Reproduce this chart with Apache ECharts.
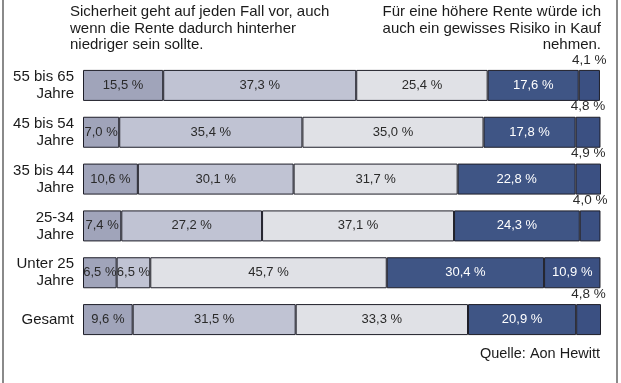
<!DOCTYPE html>
<html>
<head>
<meta charset="utf-8">
<script src="https://cdn.jsdelivr.net/npm/echarts@6/dist/echarts.min.js"></script>
<style>html,body{margin:0;padding:0;background:#fff}#c{width:621px;height:383px}</style>
</head>
<body>
<div id="c"></div>
<script>
const categories = ['55 bis 65\nJahre', '45 bis 54\nJahre', '35 bis 44\nJahre', '25-34\nJahre', 'Unter 25\nJahre', 'Gesamt'];
const seg1 = [15.5, 7.0, 10.6, 7.4, 6.5, 9.6];
const seg2 = [37.3, 35.4, 30.1, 27.2, 6.5, 31.5];
const seg3 = [25.4, 35.0, 31.7, 37.1, 45.7, 33.3];
const seg4 = [17.6, 17.8, 22.8, 24.3, 30.4, 20.9];
const seg5 = [4.1, 4.8, 4.9, 4.0, 10.9, 4.8];
const titleLeft = 'Sicherheit geht auf jeden Fall vor, auch\nwenn die Rente dadurch hinterher\nniedriger sein sollte.';
const titleRight = 'Für eine höhere Rente würde ich\nauch ein gewisses Risiko in Kauf\nnehmen.';
const source = 'Quelle: Aon Hewitt';

const FONT = '"Liberation Sans", Arial, Helvetica, sans-serif';
const fmt = p => p.value.toFixed(1).replace('.', ',') + ' %';
const colors = ['#a0a4ba', '#c0c3d3', '#e0e1e6', '#3f5585', '#3b5082'];
const labelColors = ['#2a2a2a', '#2a2a2a', '#2a2a2a', '#ffffff', '#ffffff'];

function mkSeries(name, arr, i) {
  return {
    name: name, type: 'bar', stack: 'all', barWidth: 31,
    itemStyle: { color: colors[i], borderColor: '#1e1e28', borderWidth: 1 },
    label: { show: true, position: 'inside', formatter: fmt, color: labelColors[i], fontSize: 13, fontFamily: FONT },
    data: arr.map(v => {
      if (i === 4 && v < 8) {
        return { value: v, label: { position: 'top', distance: 3, color: '#2a2a2a', fontSize: 13.5 } };
      }
      return v;
    })
  };
}

const chart = echarts.init(document.getElementById('c'), null, { renderer: 'canvas' });
chart.setOption({
  animation: false,
  backgroundColor: '#ffffff',
  grid: { left: 83, right: 20, top: 62, bottom: 40, containLabel: false },
  xAxis: { type: 'value', min: 0, max: 100.1, show: false },
  yAxis: {
    type: 'category', data: categories, inverse: true,
    axisLine: { show: false }, axisTick: { show: false },
    axisLabel: { margin: 9, color: '#1a1a1a', fontSize: 15, lineHeight: 17, fontFamily: FONT, align: 'right' }
  },
  series: [
    mkSeries('s1', seg1, 0), mkSeries('s2', seg2, 1), mkSeries('s3', seg3, 2),
    mkSeries('s4', seg4, 3), mkSeries('s5', seg5, 4)
  ],
  graphic: [
    { type: 'line', shape: { x1: 3, y1: 0, x2: 3, y2: 383 }, style: { stroke: '#8a8a8a', lineWidth: 2 } },
    { type: 'line', shape: { x1: 617, y1: 0, x2: 617, y2: 383 }, style: { stroke: '#8a8a8a', lineWidth: 2 } },
    { type: 'text', x: 70, y: 4, style: { text: titleLeft, font: '15px ' + FONT, lineHeight: 16.5, fill: '#1a1a1a', textAlign: 'left' } },
    { type: 'text', x: 601, y: 4, style: { text: titleRight, font: '15px ' + FONT, lineHeight: 16.5, fill: '#1a1a1a', textAlign: 'right' } },
    { type: 'text', x: 600, y: 346, style: { text: source, font: '14.5px ' + FONT, fill: '#1a1a1a', textAlign: 'right' } }
  ]
});
</script>
</body>
</html>
